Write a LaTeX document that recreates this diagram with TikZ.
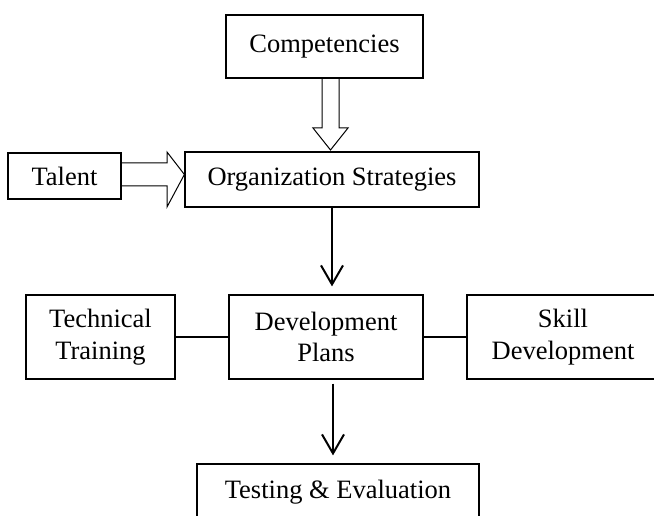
\documentclass[tikz,border=0pt]{standalone}
\usepackage{fontspec}
\setmainfont{Liberation Serif}
\usetikzlibrary{arrows.meta,calc}
\begin{document}
\begin{tikzpicture}[x=1pt,y=-1pt,
  box/.style={draw, line width=1.2pt, inner sep=0pt, align=center,
    font=\fontsize{26.5}{31.8}\selectfont},
  flow/.style={line width=2pt, -{Straight Barb[length=19pt,width=22pt,line width=2pt]}},
  hollow/.style={draw, line width=1pt, line join=miter},
  link/.style={line width=1.4pt}]
\useasboundingbox (0,0) rectangle (654,516);
\clip (0,0) rectangle (654,516);
\node[box, minimum width=197pt, minimum height=63pt] (comp) at (324.5,46.5) {Competencies};
\node[box, minimum width=294pt, minimum height=55pt] (org) at (332,179.5) {Organization Strategies};
\node[box, minimum width=113pt, minimum height=46pt] (talent) at (64.5,176) {Talent};
\node[box, minimum width=149pt, minimum height=84pt] (tech) at (100.5,337) {Technical\\Training};
\node[box, minimum width=194pt, minimum height=84pt] (dev) at (326,337) {Development\\Plans};
\node[box, minimum width=192pt, minimum height=84pt] (skill) at (563,337) {Skill\\Development};
\node[box, minimum width=282pt, minimum height=56pt] (test) at (338,492) {Testing \& Evaluation};
% hollow arrow Competencies -> Organization
\draw[hollow] (322,0 |- comp.south) -- (322,128) -- (313,128) -- (330.5,150)
  -- (348,128) -- (339,128) -- (339,0 |- comp.south);
% hollow arrow Talent -> Organization
\draw[hollow] (talent.east |- 0,163) -- (167,163) -- (167,152) -- (org.west |- 0,174.5)
  -- (167,207) -- (167,186) -- (talent.east |- 0,186);
% black arrows
\draw[flow, shorten >=8pt] (332,0 |- org.south) -- (332,0 |- dev.north);
\draw[flow, shorten <=4pt, shorten >=8pt] (333,0 |- dev.south) -- (333,0 |- test.north);
% links
\draw[link] (tech.east) -- (dev.west);
\draw[link] (dev.east) -- (skill.west);
\end{tikzpicture}
\end{document}
